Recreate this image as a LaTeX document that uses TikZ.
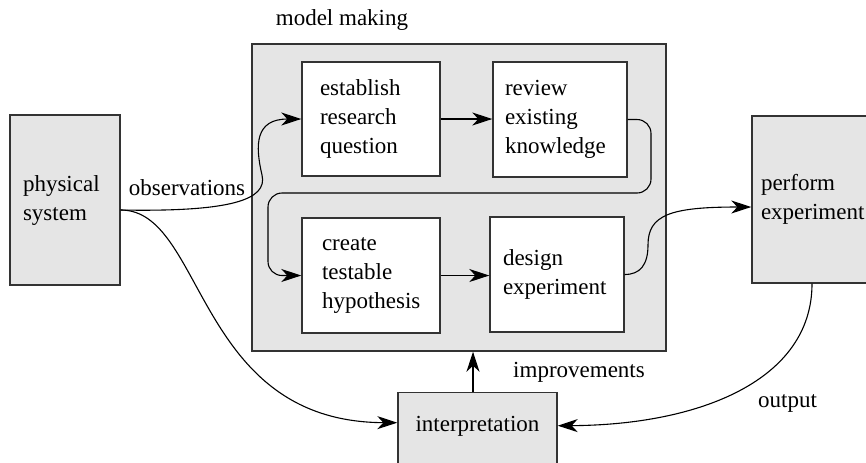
\documentclass[tikz,border=0pt]{standalone}
\usepackage{fontspec}
\setmainfont{Liberation Serif}
\usetikzlibrary{arrows.meta}
\begin{document}
\begin{tikzpicture}[x=0.5pt,y=-0.5pt,
  font=\fontsize{11.5}{14.5}\selectfont,
  box/.style={draw=black!80, line width=0.7pt, fill=gray!20, inner ysep=0pt, align=left},
  wbox/.style={box, fill=white},
  conn/.style={line width=0.55pt, -{Stealth[length=10pt,width=6.5pt,inset=3pt]}},
  lbl/.style={inner sep=0pt}]
\useasboundingbox (0,0) rectangle (866,462);
% boxes
\node[box, minimum width=207pt, minimum height=153.5pt] (model) at (459,197.5) {};
\node[box, inner xsep=6.5pt, text width=42pt, minimum height=85pt] (phys) at (65,200) {physical\\system};
\node[wbox, inner xsep=9pt, text width=51pt, minimum height=57pt] (est) at (371,119) {establish\\research\\question};
\node[wbox, inner xsep=6pt, text width=55pt, minimum height=57.5pt] (rev) at (560,119.5) {review\\existing\\knowledge};
\node[wbox, inner xsep=10pt, text width=49pt, minimum height=57.5pt] (cre) at (371,275.5) {create\\testable\\hypothesis};
\node[wbox, inner xsep=6.5pt, text width=54pt, minimum height=57.5pt] (des) at (557,274.5) {design\\experiment};
\node[box, inner xsep=4.5pt, text width=55pt, minimum height=83.5pt] (perf) at (816,199.5) {perform\\experiment};
\node[box, align=center, minimum width=79.5pt, minimum height=40pt, text height=7.6pt, text depth=8.6pt, anchor=north] (interp) at (477.5,392) {interpretation};
% labels
\node[lbl] (lmm) at (342,20) {model making};
\node[lbl] (lobs) at (187,188) {observations};
\node[lbl] (limp) at (579,372) {improvements};
\node[lbl] (lout) at (787.5,403) {output};
% connectors
\coordinate (ps) at ([yshift=-5pt]phys.east);
\draw[conn] (ps) .. controls (230,212) and (268,200) .. (262,175) .. controls (255,145) and (255,119) .. (est.west);
\draw[conn] (ps) .. controls (205,210) and (195,422) .. ([yshift=5pt]interp.west);
\draw[conn] (est.east) -- (est.east -| rev.west);
\draw[conn, rounded corners=7pt] (rev.east) -- (651,119.5) -- (651,193) -- (268,193) -- (268,275.5) -- (cre.west);
\draw[conn] (cre.east) -- (cre.east -| des.west);
\draw[conn] (des.east) .. controls (640,274.5) and (648,265) .. (648,245) .. controls (648,215) and (670,207) .. ([yshift=-3.75pt]perf.west);
\draw[conn] ([xshift=-2pt]perf.south) .. controls (812,380) and (700,425) .. ([yshift=3.5pt]interp.east);
\draw[conn] ([xshift=-2.25pt]interp.north) -- ([xshift=-2.25pt]interp.north |- model.south);
\end{tikzpicture}
\end{document}
